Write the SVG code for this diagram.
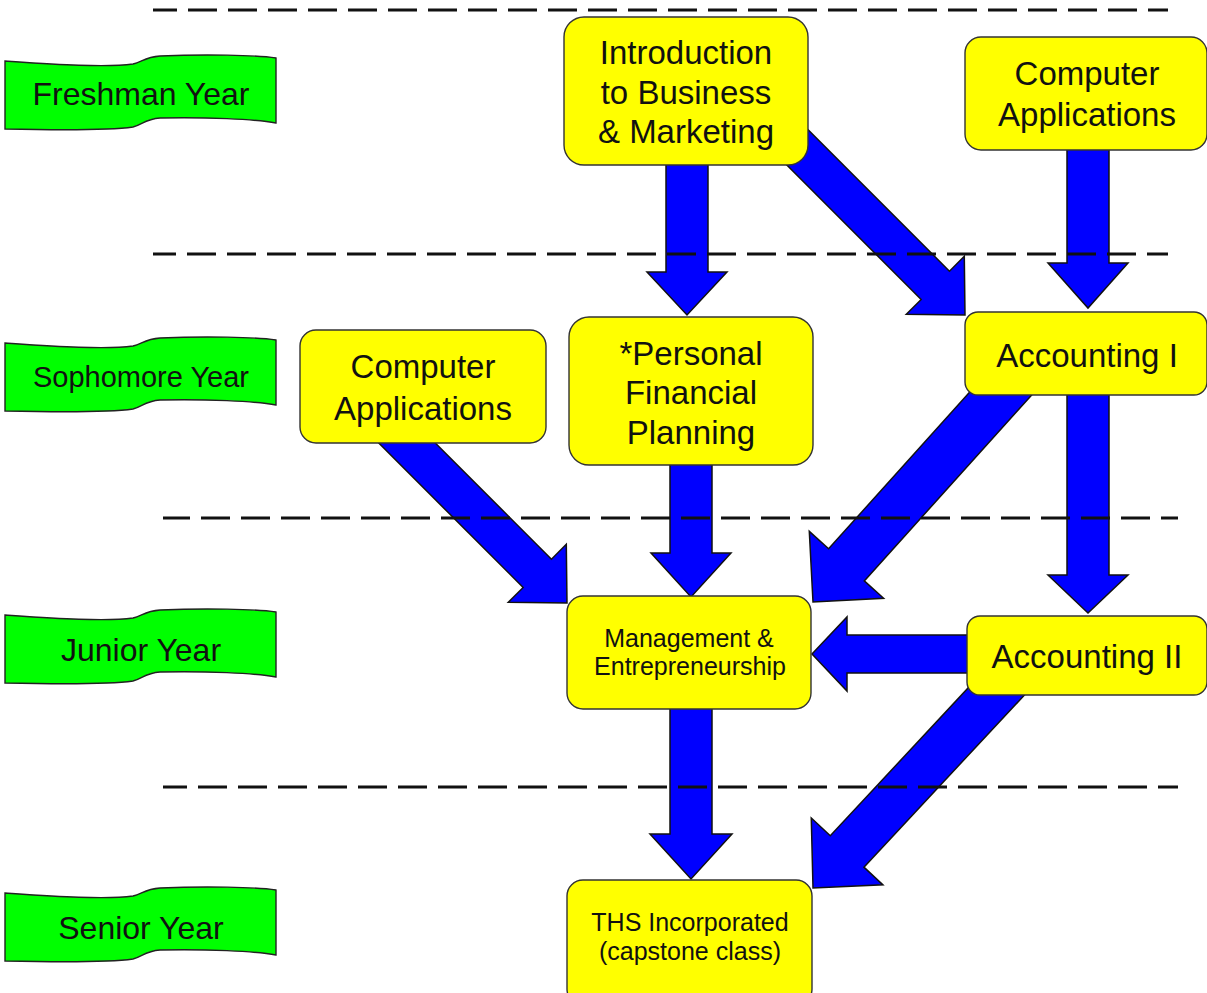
<svg xmlns="http://www.w3.org/2000/svg" width="1207" height="993" viewBox="0 0 1207 993">
<defs>
<style>
.box{fill:#ffff00;stroke:#333;stroke-width:1.4}
.ban{fill:#00ff00;stroke:#222;stroke-width:1.4}
.arr{fill:#0000ff;stroke:#111;stroke-width:1.5;stroke-linejoin:miter}
.sep{stroke:#111;stroke-width:3;stroke-dasharray:29 11;fill:none}
text{font-family:"Liberation Sans",Arial,sans-serif;fill:#111;text-anchor:middle}
.t33{font-size:33px}
.t25{font-size:25px}
.b32{font-size:32px}
.b29{font-size:29px}
</style>
<path id="banner" d="M0,6 C45,9 100,13 128,9 C137,7 140,2 155,1 C200,-1 250,0 271,3 L271,68 C250,64 200,62 155,63 C140,64 137,70 128,72 C100,76 45,75 0,74 Z"/>
</defs>
<rect width="1207" height="993" fill="#fff"/>

<g id="connectors">
<polygon class="arr" transform="translate(687,315) rotate(90)" points="-175,-21 -43,-21 -43,-40 0,0 -43,40 -43,21 -175,21"/>
<polygon class="arr" transform="translate(965,315) rotate(45)" points="-250,-20 -42,-20 -42,-41 0,0 -42,41 -42,20 -250,20"/>
<polygon class="arr" transform="translate(1088,308) rotate(90)" points="-170,-21 -45,-21 -45,-40 0,0 -45,40 -45,21 -170,21"/>
<polygon class="arr" transform="translate(567,603) rotate(45)" points="-260,-20 -42,-20 -42,-41 0,0 -42,41 -42,20 -260,20"/>
<polygon class="arr" transform="translate(691,597) rotate(90)" points="-160,-21 -44,-21 -44,-40 0,0 -44,40 -44,21 -160,21"/>
<polygon class="arr" transform="translate(813,602) rotate(132)" points="-310,-24 -50,-24 -50,-50 0,0 -50,50 -50,24 -310,24"/>
<polygon class="arr" transform="translate(1088,613) rotate(90)" points="-233,-21 -38,-21 -38,-40 0,0 -38,40 -38,21 -233,21"/>
<polygon class="arr" transform="translate(812,654) rotate(180)" points="-200,-19 -35,-19 -35,-37 0,0 -35,37 -35,19 -200,19"/>
<polygon class="arr" transform="translate(813,888) rotate(133)" points="-300,-23 -50,-23 -50,-49 0,0 -50,49 -50,23 -300,23"/>
<polygon class="arr" transform="translate(691,879) rotate(90)" points="-190,-21 -45,-21 -45,-41 0,0 -45,41 -45,21 -190,21"/>
</g>

<g id="separators">
<line class="sep" x1="153" y1="10" x2="1168" y2="10" stroke-dashoffset="5"/>
<line class="sep" x1="153" y1="254" x2="1168" y2="254" stroke-dashoffset="6"/>
<line class="sep" x1="163" y1="518" x2="1178" y2="518" stroke-dashoffset="2"/>
<line class="sep" x1="163" y1="787" x2="1178" y2="787" stroke-dashoffset="5"/>
</g>

<g id="freshman-year">
<use href="#banner" class="ban" transform="translate(5,55)"/>
<text class="b32" x="141" y="105">Freshman Year</text>
</g>
<g id="sophomore-year">
<use href="#banner" class="ban" transform="translate(5,337)"/>
<text class="b29" x="141" y="387">Sophomore Year</text>
</g>
<g id="junior-year">
<use href="#banner" class="ban" transform="translate(5,609)"/>
<text class="b32" x="141" y="661">Junior Year</text>
</g>
<g id="senior-year">
<use href="#banner" class="ban" transform="translate(5,887)"/>
<text class="b32" x="141" y="939">Senior Year</text>
</g>

<g id="intro-business-marketing">
<rect class="box" x="564" y="17" width="244" height="148" rx="20"/>
<text class="t33" x="686" y="64">Introduction</text>
<text class="t33" x="686" y="103.5">to Business</text>
<text class="t33" x="686" y="143">&amp; Marketing</text>
</g>
<g id="computer-applications-1">
<rect class="box" x="965" y="37" width="242" height="113" rx="16"/>
<text class="t33" x="1087" y="85">Computer</text>
<text class="t33" x="1087" y="126">Applications</text>
</g>
<g id="accounting-1">
<rect class="box" x="965" y="312" width="242" height="83" rx="13"/>
<text class="t33" x="1087" y="367">Accounting I</text>
</g>
<g id="computer-applications-2">
<rect class="box" x="300" y="330" width="246" height="113" rx="16"/>
<text class="t33" x="423" y="378">Computer</text>
<text class="t33" x="423" y="420">Applications</text>
</g>
<g id="personal-financial-planning">
<rect class="box" x="569" y="317" width="244" height="148" rx="20"/>
<text class="t33" x="691" y="365">*Personal</text>
<text class="t33" x="691" y="404">Financial</text>
<text class="t33" x="691" y="444">Planning</text>
</g>
<g id="management-entrepreneurship">
<rect class="box" x="567" y="596" width="244" height="113" rx="16"/>
<text class="t25" x="689" y="647">Management &amp;</text>
<text class="t25" x="690" y="675">Entrepreneurship</text>
</g>
<g id="accounting-2">
<rect class="box" x="967" y="616" width="240" height="79" rx="13"/>
<text class="t33" x="1087" y="668">Accounting II</text>
</g>
<g id="ths-incorporated">
<rect class="box" x="567" y="880" width="245" height="125" rx="16"/>
<text class="t25" x="690" y="931">THS Incorporated</text>
<text class="t25" x="690" y="960">(capstone class)</text>
</g>
</svg>
